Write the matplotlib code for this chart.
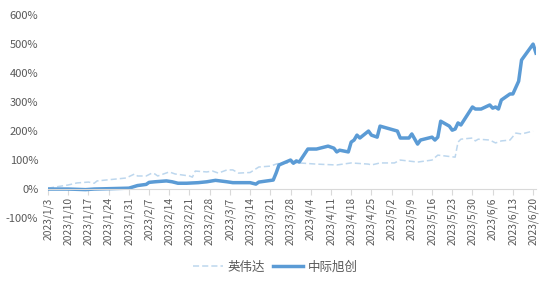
import pandas as pd
import matplotlib
matplotlib.use('Agg')
import matplotlib.pyplot as plt

plt.rcParams['font.family'] = ['Noto Sans CJK SC', 'DejaVu Sans']

# 中际旭创 cumulative return (%)
zjxc_dates = ['2023-01-03', '2023-01-10', '2023-01-16', '2023-01-19', '2023-01-31',
              '2023-02-03', '2023-02-06', '2023-02-07', '2023-02-09', '2023-02-13',
              '2023-02-15', '2023-02-17', '2023-02-20', '2023-02-24', '2023-02-27',
              '2023-03-02', '2023-03-06', '2023-03-08', '2023-03-14', '2023-03-16',
              '2023-03-17', '2023-03-22', '2023-03-23', '2023-03-24', '2023-03-28',
              '2023-03-29', '2023-03-30', '2023-03-31', '2023-04-03', '2023-04-06',
              '2023-04-10', '2023-04-12', '2023-04-13', '2023-04-14', '2023-04-17',
              '2023-04-18', '2023-04-19', '2023-04-20', '2023-04-21', '2023-04-24',
              '2023-04-25', '2023-04-27', '2023-04-28', '2023-05-04', '2023-05-05',
              '2023-05-08', '2023-05-09', '2023-05-11', '2023-05-12', '2023-05-16',
              '2023-05-17', '2023-05-18', '2023-05-19', '2023-05-22', '2023-05-23',
              '2023-05-24', '2023-05-25', '2023-05-26', '2023-05-30', '2023-05-31',
              '2023-06-02', '2023-06-05', '2023-06-06', '2023-06-07', '2023-06-08',
              '2023-06-09', '2023-06-12', '2023-06-13', '2023-06-15', '2023-06-16',
              '2023-06-20', '2023-06-21']
zjxc = [0, 0, -2, 0, 3,
        12, 16, 23, 25, 28,
        25, 20, 20, 22, 25,
        30, 25, 22, 22, 17,
        24, 31, 55, 83, 100,
        89, 97, 93, 138, 138,
        148, 141, 128, 134, 128,
        162, 169, 186, 176, 200,
        186, 179, 217, 200, 176,
        176, 190, 155, 169, 179,
        169, 179, 234, 217, 203,
        207, 228, 221, 283, 276,
        276, 290, 279, 283, 276,
        307, 328, 328, 372, 445,
        500, 469]

# 英伟达 cumulative return (%)
nvda_dates = ['2023-01-03', '2023-01-10', '2023-01-13', '2023-01-17', '2023-01-19',
              '2023-01-20', '2023-01-30', '2023-02-02', '2023-02-03', '2023-02-06',
              '2023-02-08', '2023-02-09', '2023-02-10', '2023-02-14', '2023-02-16',
              '2023-02-21', '2023-02-22', '2023-02-23', '2023-02-27', '2023-03-01',
              '2023-03-03', '2023-03-06', '2023-03-08', '2023-03-10', '2023-03-14',
              '2023-03-17', '2023-03-21', '2023-03-23', '2023-03-24', '2023-03-29',
              '2023-03-31', '2023-04-06', '2023-04-13', '2023-04-18', '2023-04-24',
              '2023-04-25', '2023-04-28', '2023-05-03', '2023-05-05', '2023-05-11',
              '2023-05-16', '2023-05-18', '2023-05-24', '2023-05-25', '2023-05-26',
              '2023-05-30', '2023-05-31', '2023-06-01', '2023-06-05', '2023-06-07',
              '2023-06-09', '2023-06-12', '2023-06-14', '2023-06-16', '2023-06-20']
nvda = [3, 14, 21, 24, 20,
        28, 38, 52, 45, 45,
        55, 52, 45, 59, 52,
        45, 41, 62, 59, 62,
        55, 66, 66, 55, 57,
        76, 79, 86, 89, 90,
        90, 86, 83, 90, 86,
        83, 90, 90, 100, 93,
        100, 117, 110, 162, 172,
        176, 166, 172, 169, 159,
        166, 169, 193, 190, 200]

yticks = [-100, 0, 100, 200, 300, 400, 500, 600]
xticks = pd.date_range('2023-01-03', '2023-06-20', freq='7D')

grey = '#595959'
fig = plt.figure(figsize=(5.5, 2.85), dpi=100)
ax = fig.add_axes([0.0873, 0.235, 0.8872, 0.712])

ax.plot(pd.to_datetime(nvda_dates), nvda, color='#BDD7EE', lw=1.1,
        ls=(0, (4, 2)), label='英伟达')
ax.plot(pd.to_datetime(zjxc_dates), zjxc, color='#5B9BD5', lw=2.5,
        label='中际旭创', solid_joinstyle='round')

ax.set_ylim(-100, 600)
ax.set_yticks(yticks)
ax.set_yticklabels([f'{v}%' for v in yticks])
ax.tick_params(axis='y', length=0, pad=7, labelsize=8, labelcolor=grey)

ax.set_xlim(pd.Timestamp('2023-01-03'), pd.Timestamp('2023-06-21'))
ax.set_xticks(xticks)
ax.set_xticklabels([f'{d.year}/{d.month}/{d.day}' for d in xticks])
ax.tick_params(axis='x', direction='out', length=4, width=0.8,
               color='#D9D9D9', pad=2, labelrotation=90, labelsize=7.4,
               labelcolor=grey)

for s in ['top', 'right', 'left']:
    ax.spines[s].set_visible(False)
ax.spines['bottom'].set_position(('data', 0))
ax.spines['bottom'].set_color('#D9D9D9')
ax.spines['bottom'].set_linewidth(0.8)

fig.legend(loc='lower center', bbox_to_anchor=(0.5, 0.0), ncol=2, frameon=False,
           prop={'size': 9}, labelcolor=grey, handlelength=2.4,
           columnspacing=0.6, handletextpad=0.4)

fig.savefig('out.png', dpi=100)
